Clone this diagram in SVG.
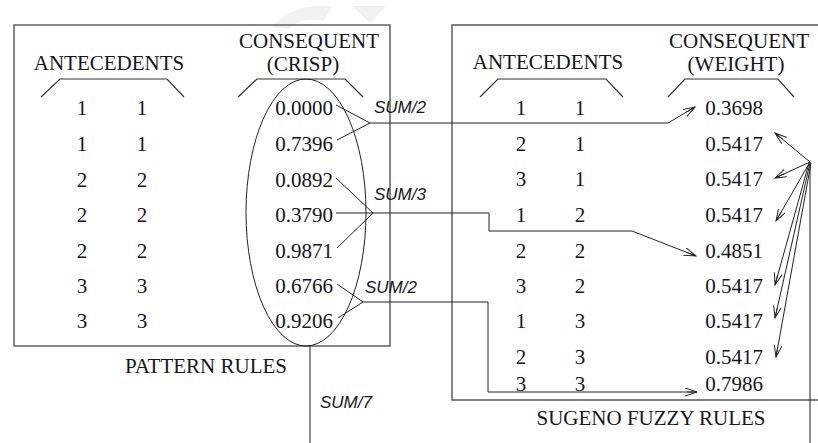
<svg xmlns="http://www.w3.org/2000/svg" width="818" height="443" viewBox="0 0 818 443">
  <style>
    .serif { font-family: "Liberation Serif", "Times New Roman", serif; fill: #151520; }
    .hdr { font-size: 21px; }
    .num { font-size: 21px; }
    .sum { font-family: "Liberation Sans", Arial, sans-serif; font-style: italic; font-size: 17px; fill: #151520; }
    .box { fill: none; stroke: #555; stroke-width: 1.4; }
    .brace { fill: none; stroke: #333; stroke-width: 1.2; }
    .wire { fill: none; stroke: #222; stroke-width: 1; }
    .mid { text-anchor: middle; }
    .end { text-anchor: end; }
  </style>
  <defs>
    <marker id="arrow" markerUnits="userSpaceOnUse" markerWidth="14" markerHeight="10" refX="12" refY="4" orient="auto">
      <path d="M0,0 L12,4 L0,8 M2,4 L12,4" fill="none" stroke="#222" stroke-width="1"/>
    </marker>
  </defs>

  <rect width="818" height="443" fill="#fff"/>

  <!-- faint background mark -->
  <g id="backdrop" fill="#f1f1f1">
    <path d="M272,27 Q292,3 332,6 L324,21 Q302,16 288,29 Z"/>
    <path d="M352,6 L386,6 L370,23 Z"/>
  </g>

  <!-- Pattern rules table -->
  <g id="pattern-rules">
    <rect class="box" x="14" y="25" width="376" height="321"/>
    <text class="serif hdr mid" x="109" y="70">ANTECEDENTS</text>
    <text class="serif hdr mid" x="309" y="47.5">CONSEQUENT</text>
    <text class="serif hdr mid" x="303" y="71">(CRISP)</text>
    <path class="brace" d="M41,97 L60,79 H167 L184,97"/>
    <path class="brace" d="M238,97 L257,79 H345 L363,97"/>
    <g class="serif num mid">
      <text x="82" y="115">1</text><text x="142" y="115">1</text>
      <text x="82" y="151">1</text><text x="142" y="151">1</text>
      <text x="82" y="187">2</text><text x="142" y="187">2</text>
      <text x="82" y="222">2</text><text x="142" y="222">2</text>
      <text x="82" y="258">2</text><text x="142" y="258">2</text>
      <text x="82" y="293">3</text><text x="142" y="293">3</text>
      <text x="82" y="328">3</text><text x="142" y="328">3</text>
    </g>
    <g class="serif num end">
      <text x="333" y="115">0.0000</text>
      <text x="333" y="151">0.7396</text>
      <text x="333" y="187">0.0892</text>
      <text x="333" y="222">0.3790</text>
      <text x="333" y="258">0.9871</text>
      <text x="333" y="293">0.6766</text>
      <text x="333" y="328">0.9206</text>
    </g>
    <ellipse cx="306" cy="212.5" rx="60" ry="133.5" fill="none" stroke="#222" stroke-width="1"/>
    <text class="serif hdr mid" x="206" y="373">PATTERN RULES</text>
  </g>

  <!-- Sugeno fuzzy rules table -->
  <g id="sugeno-rules">
    <path class="box" d="M818,25 H452 V400 H818"/>
    <text class="serif hdr mid" x="548" y="69">ANTECEDENTS</text>
    <text class="serif hdr mid" x="739" y="48">CONSEQUENT</text>
    <text class="serif hdr mid" x="736" y="71">(WEIGHT)</text>
    <path class="brace" d="M480,97 L498,79 H606 L623,97"/>
    <path class="brace" d="M668,97 L685,79 H778 L794,97"/>
    <g class="serif num mid">
      <text x="521" y="115">1</text><text x="580" y="115">1</text>
      <text x="521" y="151">2</text><text x="580" y="151">1</text>
      <text x="521" y="186">3</text><text x="580" y="186">1</text>
      <text x="521" y="222">1</text><text x="580" y="222">2</text>
      <text x="521" y="258">2</text><text x="580" y="258">2</text>
      <text x="521" y="293">3</text><text x="580" y="293">2</text>
      <text x="521" y="328">1</text><text x="580" y="328">3</text>
      <text x="521" y="364">2</text><text x="580" y="364">3</text>
      <text x="521" y="391">3</text><text x="580" y="391">3</text>
    </g>
    <g class="serif num end">
      <text x="763" y="115">0.3698</text>
      <text x="763" y="151">0.5417</text>
      <text x="763" y="186">0.5417</text>
      <text x="763" y="222">0.5417</text>
      <text x="763" y="258">0.4851</text>
      <text x="763" y="293">0.5417</text>
      <text x="763" y="328">0.5417</text>
      <text x="763" y="364">0.5417</text>
      <text x="763" y="391">0.7986</text>
    </g>
    <text class="serif hdr mid" x="651" y="425">SUGENO FUZZY RULES</text>
  </g>

  <!-- Connectors -->
  <g id="connectors">
    <!-- SUM/2 of rows 1-2 -->
    <path class="wire" d="M336,105 L370,123 L337,140"/>
    <path class="wire" d="M370,123 H668 L695,107" marker-end="url(#arrow)"/>
    <text class="sum" x="374" y="113">SUM/2</text>

    <!-- SUM/3 of rows 3-5 -->
    <path class="wire" d="M336,178 L373,213 L337,248 M336,213 H373"/>
    <path class="wire" d="M373,213 H489 V231 H632 L696,256" marker-end="url(#arrow)"/>
    <text class="sum" x="374" y="200">SUM/3</text>

    <!-- SUM/2 of rows 6-7 -->
    <path class="wire" d="M337,284 L363,302 L338,318"/>
    <path class="wire" d="M363,302 H488 V392 H697" marker-end="url(#arrow)"/>
    <text class="sum" x="365" y="293">SUM/2</text>

    <!-- SUM/7 of all rows -->
    <path class="wire" d="M310,346 V443"/>
    <text class="sum" x="320" y="408">SUM/7</text>

    <!-- SUM/7 fanned out to the remaining rules -->
    <path class="wire" d="M810,443 V162"/>
    <path class="wire" d="M810,162 L775,133" marker-end="url(#arrow)"/>
    <path class="wire" d="M810,162 L775,178" marker-end="url(#arrow)"/>
    <path class="wire" d="M810,162 L776,221" marker-end="url(#arrow)"/>
    <path class="wire" d="M809,163 L775,285" marker-end="url(#arrow)"/>
    <path class="wire" d="M810,163 L775,318" marker-end="url(#arrow)"/>
    <path class="wire" d="M811,163 L776,357" marker-end="url(#arrow)"/>
  </g>
</svg>
